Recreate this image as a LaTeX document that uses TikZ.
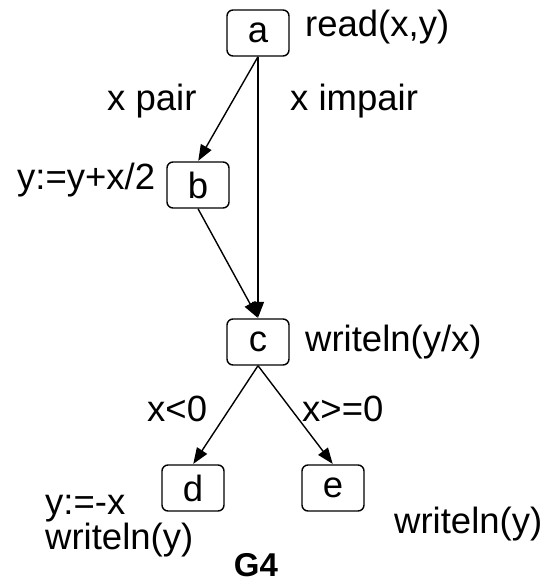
\documentclass[tikz,border=0pt]{standalone}
\usepackage{fontspec}
\setmainfont{Liberation Sans}
\usetikzlibrary{arrows.meta}
\tikzset{
  blk/.style={draw, rounded corners=6pt, line width=1.4pt, minimum width=62pt, minimum height=46pt, inner sep=0pt, font=\fontsize{36.5}{42}\selectfont},
  lbl/.style={anchor=west, inner sep=0pt, font=\fontsize{36.5}{42}\selectfont},
  edge/.style={line width=1.4pt, -{Triangle[length=16pt,width=12pt]}, shorten >=0.5pt}
}
\begin{document}
\begin{tikzpicture}[x=1pt,y=-1pt]
\useasboundingbox (0,0) rectangle (546,585);
\node[blk] (a) at (258,33) {a};
\node[blk] (b) at (198,185) {b};
\node[blk] (c) at (258,342) {c};
\node[blk] (d) at (193,488) {d};
\node[blk] (e) at (333,488) {e};
\node[lbl] (la) at (305,27) {read(x,y)};
\node[lbl] (lp) at (107,101) {x pair};
\node[lbl] (li) at (290,101) {x impair};
\node[lbl] (lb) at (17,180) {y:=y+x/2};
\node[lbl] (lc) at (305,342) {writeln(y/x)};
\node[lbl] (ln) at (147,409) {x<0};
\node[lbl] (lz) at (302,409) {x>=0};
\node[lbl, align=left, font=\fontsize{36.5}{27}\selectfont] (ld) at (45,526) {y:=-x\\writeln(y)};
\node[lbl] (le) at (394,524) {writeln(y)};
\node[anchor=center, inner sep=0pt, font=\fontsize{33}{38}\selectfont\bfseries] (g) at (256,565) {G4};
\draw[edge] (a.south) -- (b.north);
\draw[edge] (a.south) -- (c.north);
\draw[edge] (b.south) -- (c.north);
\draw[edge] (c.south) -- (d.north);
\draw[edge] (c.south) -- (e.north);
\end{tikzpicture}
\end{document}
